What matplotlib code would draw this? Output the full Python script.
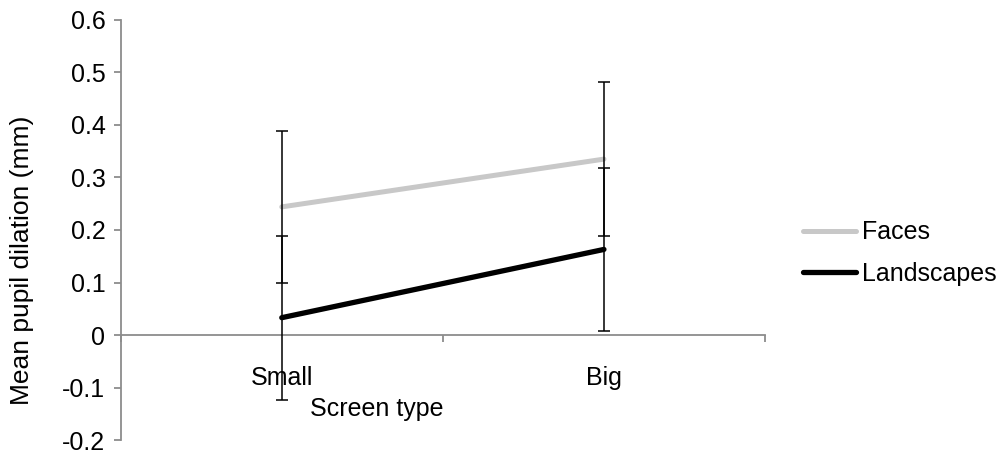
import numpy as np
import matplotlib
matplotlib.use("Agg")
import matplotlib.pyplot as plt

plt.rcParams['font.family'] = ['Liberation Sans', 'DejaVu Sans']

# data
categories = ["Small", "Big"]
faces = [0.244, 0.335]
faces_err = [0.145, 0.147]
landscapes = [0.033, 0.163]
landscapes_err = [0.156, 0.156]
yticks = [-0.2, -0.1, 0, 0.1, 0.2, 0.3, 0.4, 0.5, 0.6]

fig = plt.figure(figsize=(9.99, 4.54), dpi=100)
ax = fig.add_axes([0.1208, 0.0308, 0.7658 - 0.1208, 0.956 - 0.0308])

x = np.arange(len(categories)) + 0.5
axis_col = '#8c8c8c'

ax.plot(x, faces, color='#c8c8c8', lw=3.6, solid_capstyle='round', label='Faces', zorder=2)
ax.plot(x, landscapes, color='black', lw=3.8, solid_capstyle='round', label='Landscapes', zorder=2)
ax.errorbar(x, faces, yerr=faces_err, fmt='none', ecolor='black', elinewidth=1.1, capsize=4, capthick=1.1, zorder=3)
ax.errorbar(x, landscapes, yerr=landscapes_err, fmt='none', ecolor='black', elinewidth=1.1, capsize=4, capthick=1.1, zorder=3)

ax.set_xlim(0, 2)
ax.set_ylim(-0.2, 0.6)
ax.set_yticks(yticks)
ax.set_yticklabels(['-0.2', '-0.1', '0', '0.1', '0.2', '0.3', '0.4', '0.5', '0.6'])

ax.spines['top'].set_visible(False)
ax.spines['right'].set_visible(False)
ax.spines['bottom'].set_position(('data', 0))
for s in ['left', 'bottom']:
    ax.spines[s].set_color(axis_col)
    ax.spines[s].set_linewidth(1.3)

ax.set_xticks([0, 1, 2])
ax.set_xticklabels([])
ax.set_xticks(x, minor=True)
ax.set_xticklabels(categories, minor=True)
ax.tick_params(axis='x', which='major', direction='out', length=5, color=axis_col, width=1.3)
ax.tick_params(axis='x', which='minor', length=0, pad=22, labelsize=18)
ax.tick_params(axis='y', direction='out', length=5, color=axis_col, width=1.3, labelsize=18, pad=6)

fig.text(377 / 999, 1 - 409 / 454, "Screen type", fontsize=18, ha='center', va='center')
fig.text(22 / 999, 1 - 260 / 454, "Mean pupil dilation (mm)", fontsize=19, rotation=90, ha='center', va='center')

ax.legend(loc='center left', bbox_to_anchor=(803 / 999, 1 - 253 / 454), bbox_transform=fig.transFigure,
          frameon=False, fontsize=18, handlelength=2.1, handletextpad=0.25, borderpad=0, borderaxespad=0,
          labelspacing=0.7)

fig.savefig("out.png", dpi=100)
